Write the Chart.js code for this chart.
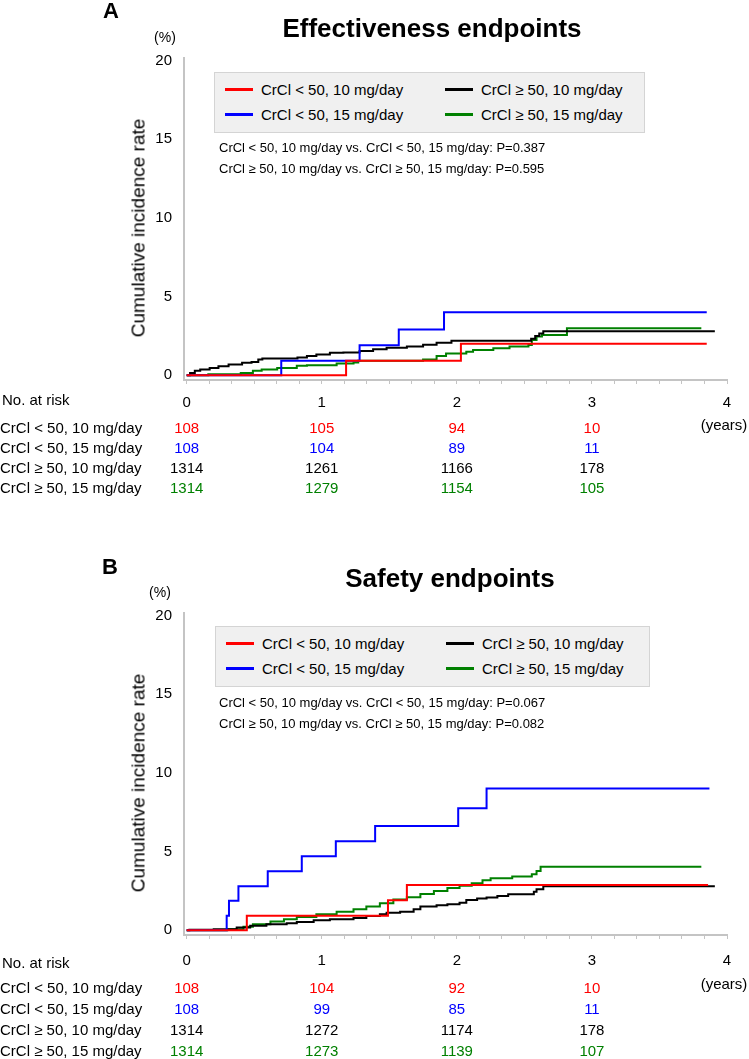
<!DOCTYPE html>
<html>
<head>
<meta charset="utf-8">
<title>Cumulative incidence by CrCl and dose</title>
<script src="https://cdn.jsdelivr.net/npm/chart.js@4.4.1/dist/chart.umd.min.js"></script>
<style>
  html, body { margin: 0; padding: 0; background: #fff; }
  body { width: 749px; height: 1059px; position: relative; overflow: hidden;
         font-family: 'Liberation Sans', Arial, sans-serif; color: #000; }
  .panel { position: absolute; left: 0; width: 749px; height: 504px; }
  .plot { position: absolute; left: 0; top: 0; width: 749px; height: 420px; }
  .txt { position: absolute; white-space: nowrap; line-height: 1; }
  .legend { position: absolute; background: #f0f0f0; border: 1px solid #d4d4d4; box-sizing: border-box; }
  .swatch { position: absolute; height: 3px; }
</style>
</head>
<body>
<div id="panelA" class="panel" style="top:0"><div class="plot"><canvas id="chartA"></canvas></div></div>
<div id="panelB" class="panel" style="top:555px"><div class="plot"><canvas id="chartB"></canvas></div></div>
<script>
// ---- data ----
const groupLabels = ['CrCl < 50, 10 mg/day', 'CrCl < 50, 15 mg/day', 'CrCl ≥ 50, 10 mg/day', 'CrCl ≥ 50, 15 mg/day'];
const groupColors = ['#ff0000', '#0000ff', '#000000', '#008000'];
const yearTicks = [0, 1, 2, 3, 4];
const pctTicks = [0, 5, 10, 15, 20];

// Effectiveness endpoints: [years, cumulative incidence %]
const effLow10 = [[0, 0], [1.18, 0.93], [2.03, 2.0], [3.85, 2.0]];
const effLow15 = [[0, 0], [0.70, 0.93], [1.28, 1.9], [1.57, 2.9], [1.905, 4.0], [3.85, 4.0]];
const effHigh10 = [[0, 0], [0.025, 0.15], [0.06, 0.28], [0.10, 0.36], [0.17, 0.47], [0.235, 0.58], [0.31, 0.68],
  [0.41, 0.79], [0.48, 0.85], [0.53, 1.0], [0.56, 1.07], [0.82, 1.13], [0.89, 1.22], [0.96, 1.32], [1.06, 1.43],
  [1.16, 1.45], [1.28, 1.54], [1.38, 1.65], [1.48, 1.75], [1.63, 1.82], [1.75, 1.94], [1.85, 2.07], [1.96, 2.2],
  [2.55, 2.32], [2.58, 2.5], [2.61, 2.65], [2.64, 2.8], [3.91, 2.8]];
const effHigh15 = [[0, 0], [0.16, 0.06], [0.40, 0.15], [0.49, 0.28], [0.555, 0.36], [0.67, 0.47], [0.815, 0.6],
  [0.89, 0.64], [1.11, 0.75], [1.235, 0.81], [1.27, 0.92], [1.75, 1.0], [1.85, 1.22], [1.92, 1.38], [2.07, 1.5],
  [2.12, 1.6], [2.27, 1.71], [2.39, 1.82], [2.53, 1.92], [2.555, 2.24], [2.59, 2.46], [2.63, 2.56], [2.815, 2.99],
  [3.81, 2.99]];
const effRiskLow10 = [108, 105, 94, 10];
const effRiskLow15 = [108, 104, 89, 11];
const effRiskHigh10 = [1314, 1261, 1166, 178];
const effRiskHigh15 = [1314, 1279, 1154, 105];
const effPValues = ['CrCl < 50, 10 mg/day vs. CrCl < 50, 15 mg/day: P=0.387',
  'CrCl ≥ 50, 10 mg/day vs. CrCl ≥ 50, 15 mg/day: P=0.595'];

// Safety endpoints
const safLow10 = [[0, 0], [0.445, 0.93], [1.49, 1.9], [1.63, 2.88], [3.86, 2.88]];
const safLow15 = [[0, 0], [0.296, 0.93], [0.313, 1.87], [0.383, 2.8], [0.60, 3.75], [0.852, 4.7], [1.104, 5.65],
  [1.395, 6.62], [2.01, 7.75], [2.22, 9.0], [3.87, 9.0]];
const safHigh10 = [[0, 0], [0.02, 0.03], [0.2, 0.06], [0.37, 0.17], [0.47, 0.28], [0.59, 0.38], [0.74, 0.45],
  [0.815, 0.53], [0.94, 0.64], [1.06, 0.70], [1.235, 0.78], [1.33, 0.91], [1.43, 1.02], [1.48, 1.12], [1.58, 1.17],
  [1.68, 1.34], [1.73, 1.51], [1.85, 1.59], [1.93, 1.65], [2.02, 1.75], [2.07, 1.93], [2.15, 2.02], [2.22, 2.08],
  [2.30, 2.18], [2.38, 2.29], [2.57, 2.44], [2.59, 2.6], [2.64, 2.8], [3.91, 2.8]];
const safHigh15 = [[0, 0], [0.30, 0.06], [0.42, 0.23], [0.49, 0.38], [0.62, 0.55], [0.72, 0.70], [0.815, 0.85],
  [0.96, 1.02], [1.11, 1.17], [1.235, 1.34], [1.33, 1.51], [1.43, 1.72], [1.53, 1.95], [1.63, 2.1], [1.73, 2.3],
  [1.83, 2.5], [1.93, 2.68], [2.02, 2.82], [2.11, 2.99], [2.19, 3.18], [2.25, 3.31], [2.41, 3.42], [2.555, 3.56],
  [2.59, 3.77], [2.62, 4.03], [3.81, 4.03]];
const safRiskLow10 = [108, 104, 92, 10];
const safRiskLow15 = [108, 99, 85, 11];
const safRiskHigh10 = [1314, 1272, 1174, 178];
const safRiskHigh15 = [1314, 1273, 1139, 107];
const safPValues = ['CrCl < 50, 10 mg/day vs. CrCl < 50, 15 mg/day: P=0.067',
  'CrCl ≥ 50, 10 mg/day vs. CrCl ≥ 50, 15 mg/day: P=0.082'];

// ---- drawing ----
const FONT = "'Liberation Sans', Arial, sans-serif";
const axisGray = '#c4c4c4';
const monthTicks = [];
for (let k = 0; k <= 24; k++) monthTicks.push(k / 6);

function isWhole(v) { return Math.abs(v - Math.round(v)) < 1e-6; }

function addText(parent, text, x, y, size, opts) {
  opts = opts || {};
  const el = document.createElement('div');
  el.className = 'txt';
  el.textContent = text;
  el.style.left = x + 'px';
  el.style.top = y + 'px';
  el.style.fontSize = size + 'px';
  if (opts.bold) el.style.fontWeight = 'bold';
  if (opts.color) el.style.color = opts.color;
  el.style.transform = (opts.center ? 'translate(-50%,-50%)' : 'translateY(-50%)') + (opts.rotate ? ' rotate(-90deg)' : '');
  parent.appendChild(el);
  return el;
}

function buildChart(canvasId, series, tickPad) {
  const datasets = series.map((pts, i) => ({
    label: groupLabels[i],
    data: pts.map(p => ({ x: p[0], y: p[1] })),
    borderColor: groupColors[i],
    backgroundColor: groupColors[i],
    borderWidth: 2,
    stepped: true,
    pointRadius: 0,
    fill: false
  }));
  const tickFont = { family: FONT, size: 15 };
  return new Chart(document.getElementById(canvasId), {
    type: 'line',
    data: { datasets: datasets },
    options: {
      responsive: true,
      maintainAspectRatio: false,
      animation: false,
      layout: { padding: { left: 0, right: 22, top: 58, bottom: 0 } },
      plugins: { legend: { display: false }, tooltip: { enabled: false } },
      scales: {
        x: {
          type: 'linear', min: -0.02, max: 4,
          afterBuildTicks: ax => { ax.ticks = monthTicks.map(v => ({ value: v })); },
          afterFit: ax => { ax.height = 40; },
          grid: { drawOnChartArea: false, drawTicks: true, tickLength: 4, color: axisGray, lineWidth: 1 },
          border: { color: axisGray, width: 2 },
          ticks: {
            autoSkip: false, maxRotation: 0, padding: tickPad, color: '#000', font: tickFont,
            callback: v => isWhole(v) && yearTicks.includes(Math.round(v)) ? String(Math.round(v)) : ''
          }
        },
        y: {
          type: 'linear', min: -0.3, max: 20.15,
          afterBuildTicks: ax => { ax.ticks = pctTicks.map(v => ({ value: v })); },
          afterFit: ax => { ax.width = 184; },
          grid: { drawOnChartArea: false, drawTicks: false },
          border: { color: axisGray, width: 2 },
          ticks: { padding: 12, color: '#000', font: tickFont }
        }
      }
    }
  });
}

function buildPanel(cfg) {
  const panel = document.getElementById(cfg.panelId);
  const chart = buildChart(cfg.canvasId, cfg.series, cfg.tickPad);

  addText(panel, cfg.letter, cfg.letterX, cfg.letterY, 22, { bold: true, center: true });
  addText(panel, cfg.title, cfg.titleX, cfg.titleY, 26, { bold: true, center: true });
  addText(panel, '(%)', cfg.pctX, 37, 14, { center: true });
  addText(panel, 'Cumulative incidence rate', 138, 228, 19, { center: true, rotate: true });

  // legend box (2 x 2)
  const box = document.createElement('div');
  box.className = 'legend';
  box.style.left = cfg.legendX + 'px';
  box.style.top = cfg.legendY + 'px';
  box.style.width = cfg.legendW + 'px';
  box.style.height = '61px';
  panel.appendChild(box);
  groupLabels.forEach((name, i) => {
    const col = i >> 1, row = i & 1;
    const yMid = row === 0 ? 16 : 41;
    const sx = col === 0 ? 10 : 230;
    const sw = document.createElement('div');
    sw.className = 'swatch';
    sw.style.left = sx + 'px';
    sw.style.width = '28px';
    sw.style.top = (yMid - 1.5) + 'px';
    sw.style.background = groupColors[i];
    box.appendChild(sw);
    addText(box, name, sx + 36, yMid, 15);
  });

  cfg.pValues.forEach((t, i) => addText(panel, t, 219, 147 + i * 21, 13));

  // number at risk table, columns placed on the x scale
  const xs = chart.scales.x;
  addText(panel, 'No. at risk', 2, cfg.riskHeadY, 15);
  addText(panel, '(years)', xs.getPixelForValue(4) - 3, cfg.yearsY, 15, { center: true });
  cfg.risk.forEach((vals, i) => {
    const y = cfg.rowY[i];
    addText(panel, groupLabels[i], 0, y, 15);
    vals.forEach((n, j) => {
      addText(panel, String(n), xs.getPixelForValue(yearTicks[j]), y, 15, { center: true, color: groupColors[i] });
    });
  });
}

buildPanel({
  panelId: 'panelA', canvasId: 'chartA', letter: 'A', title: 'Effectiveness endpoints',
  series: [effLow10, effLow15, effHigh10, effHigh15],
  risk: [effRiskLow10, effRiskLow15, effRiskHigh10, effRiskHigh15],
  pValues: effPValues,
  tickPad: 10, letterX: 111, letterY: 11, titleX: 432, titleY: 28, pctX: 165,
  legendX: 214, legendY: 72, legendW: 431,
  riskHeadY: 399, yearsY: 424, rowY: [427, 447, 467, 487]
});

buildPanel({
  panelId: 'panelB', canvasId: 'chartB', letter: 'B', title: 'Safety endpoints',
  series: [safLow10, safLow15, safHigh10, safHigh15],
  risk: [safRiskLow10, safRiskLow15, safRiskHigh10, safRiskHigh15],
  pValues: safPValues,
  tickPad: 13, letterX: 110, letterY: 12, titleX: 450, titleY: 23, pctX: 160,
  legendX: 215, legendY: 71, legendW: 435,
  riskHeadY: 407, yearsY: 428, rowY: [432, 453, 474, 495]
});
</script>
</body>
</html>
